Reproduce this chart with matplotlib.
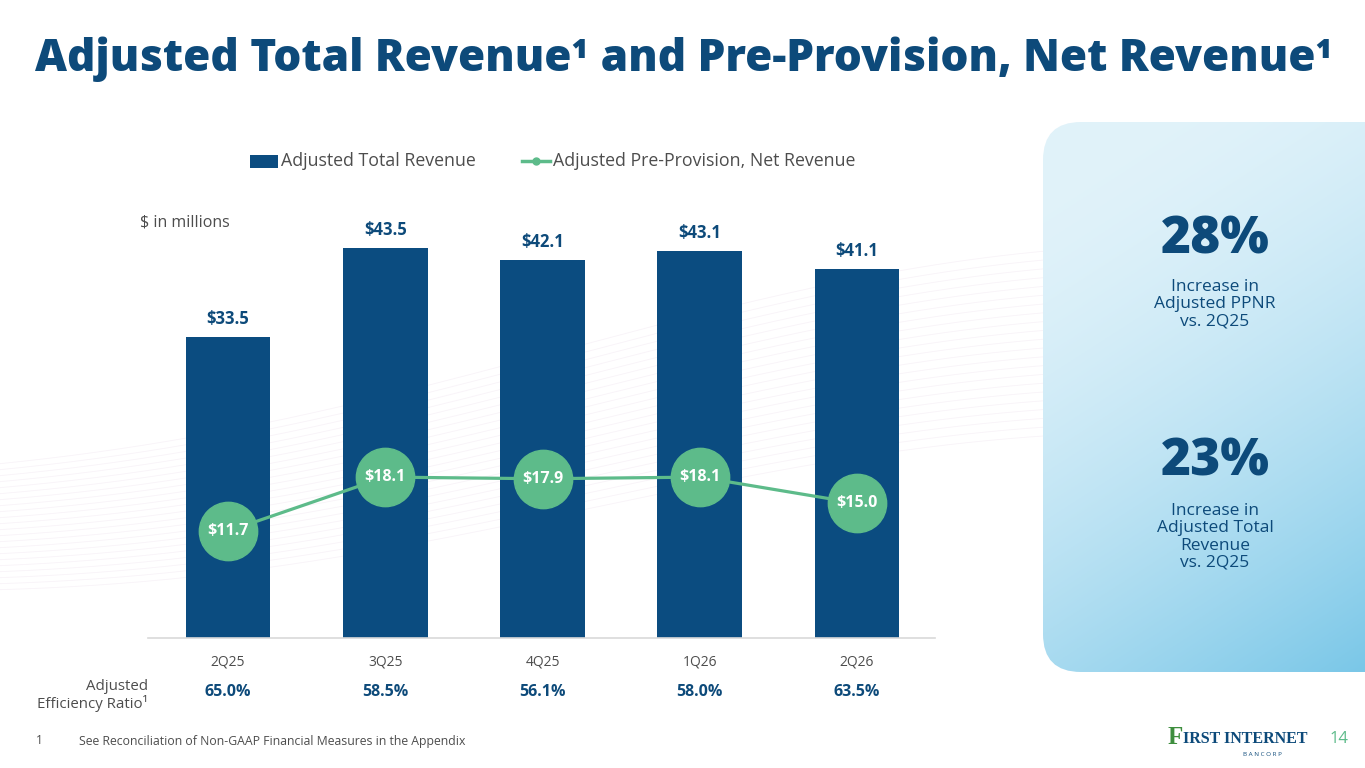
import matplotlib
matplotlib.use("Agg")
import matplotlib.pyplot as plt
import numpy as np
from matplotlib.patches import FancyBboxPatch

plt.rcParams['font.family'] = ['Open Sans', 'DejaVu Sans']

# datos del grafico
quarters = ["2Q25", "3Q25", "4Q25", "1Q26", "2Q26"]
total_revenue = [33.5, 43.5, 42.1, 43.1, 41.1]
ppnr = [11.7, 18.1, 17.9, 18.1, 15.0]
efficiency = ["65.0%", "58.5%", "56.1%", "58.0%", "63.5%"]

NAVY = "#0B4C80"
TITLE = "#0D4A7A"
GREEN = "#5DBB8A"
GRAY = "#4D4D4D"

W, H = 1365, 768
fig = plt.figure(figsize=(W / 100, H / 100), dpi=100)
fig.patch.set_facecolor("white")


def px(x, y):
    return x / W, 1 - y / H


# fondo: lineas onduladas suaves y panel derecho con degradado
panel = fig.add_axes([0, 0, 1, 1], zorder=0)
panel.axis("off")
xs = np.linspace(0, W, 400)
for k in range(22):
    ys = 430 + 6 * k - 150 * np.sin(np.pi * xs / (2 * W)) * (1 - 0.02 * k) + 40 * np.sin(xs / 300 + 1)
    panel.plot(xs, ys, color="#EBDDEB", linewidth=0.6, alpha=0.35, zorder=0)
gx = np.linspace(0, 1, 200)
gy = np.linspace(0, 1, 300)
GX, GY = np.meshgrid(gx, gy)
t = np.clip(0.35 * GX + 0.75 * GY - 0.1, 0, 1) ** 1.6
c0 = np.array([0.88, 0.95, 0.98])
c1 = np.array([0.43, 0.76, 0.90])
img = c0 + (c1 - c0) * t[..., None]
box = FancyBboxPatch((1043, 122), 400, 550, boxstyle="round,pad=0,rounding_size=38",
                     transform=panel.transData, facecolor="none", edgecolor="none")
panel.add_patch(box)
im = panel.imshow(img, extent=(1043, 1443, 672, 122), aspect="auto", zorder=1)
im.set_clip_path(box)
panel.set_xlim(0, W)
panel.set_ylim(H, 0)

# grafico principal
ax = fig.add_axes([148 / W, 1 - 638 / H, 787 / W, 438 / H], zorder=2)
ax.patch.set_alpha(0)
x = np.arange(len(quarters))
ax.bar(x, total_revenue, width=0.54, color=NAVY, label="Adjusted Total Revenue", zorder=2)
ax.set_xlim(-0.509, 4.496)
ax.set_ylim(0, 48.8)
for xi, v in zip(x, total_revenue):
    ax.text(xi, v + 1.0, f"${v}", ha="center", va="bottom", fontsize=12,
            fontweight="bold", color=TITLE)
for s in ["top", "right", "left"]:
    ax.spines[s].set_visible(False)
ax.spines["bottom"].set_color("#D9D9D9")
ax.spines["bottom"].set_linewidth(1.2)
ax.set_yticks([])
ax.set_xticks(x)
ax.set_xticklabels(quarters, fontsize=10, color=GRAY)
ax.tick_params(axis="x", length=0, pad=12)

ax2 = ax.twinx()
ax2.set_ylim(-0.95, 50.9)
ax2.axis("off")
ax2.plot(x, ppnr, color=GREEN, linewidth=2.3, marker="o", markersize=42,
         label="Adjusted Pre-Provision, Net Revenue", zorder=3)
for xi, v in zip(x, ppnr):
    ax2.text(xi, v, f"${v}", ha="center", va="center", fontsize=11.5,
             fontweight="bold", color="white", zorder=4)

# leyenda
fig.patches.append(plt.Rectangle(px(250, 168), 28 / W, 13 / H, transform=fig.transFigure,
                                 facecolor=NAVY, edgecolor="none", zorder=5))
fig.text(*px(281, 161), "Adjusted Total Revenue", fontsize=12.8, color=GRAY, va="center")
fig.lines.append(plt.Line2D([522 / W, 550 / W], [1 - 161 / H] * 2, transform=fig.transFigure,
                            color=GREEN, linewidth=2.5))
fig.lines.append(plt.Line2D([536 / W], [1 - 161 / H], transform=fig.transFigure,
                            color=GREEN, marker="o", markersize=5))
fig.text(*px(553, 161), "Adjusted Pre-Provision, Net Revenue", fontsize=12.8, color=GRAY, va="center")

fig.text(*px(140, 223), "$ in millions", fontsize=11.5, color=GRAY, va="center")

# titulo
fig.text(*px(35, 59), "Adjusted Total Revenue¹ and Pre-Provision, Net Revenue¹",
         fontsize=31.8, fontweight="heavy", color=TITLE, va="center")

# ratio de eficiencia
fig.text(*px(148, 686), "Adjusted", fontsize=10.8, color=GRAY, ha="right", va="center")
fig.text(*px(148, 703), "Efficiency Ratio¹", fontsize=10.8, color=GRAY, ha="right", va="center")
for i, e in enumerate(efficiency):
    fig.text(*px(228 + 157.25 * i, 692), e, fontsize=11.5, fontweight="bold", color=TITLE,
             ha="center", va="center")

# textos del panel
fig.text(*px(1215, 240), "28%", fontsize=37, fontweight="heavy", color=TITLE, ha="center", va="center")
fig.text(*px(1215, 304), "Increase in\nAdjusted PPNR\nvs. 2Q25", fontsize=12.5, color=TITLE,
         ha="center", va="center", linespacing=1.1)
fig.text(*px(1215, 462), "23%", fontsize=37, fontweight="heavy", color=TITLE, ha="center", va="center")
fig.text(*px(1215, 537), "Increase in\nAdjusted Total\nRevenue\nvs. 2Q25", fontsize=12.5, color=TITLE,
         ha="center", va="center", linespacing=1.1)

# pie de pagina
fig.text(*px(36, 741), "1", fontsize=8.5, color=GRAY, va="center")
fig.text(*px(79, 741), "See Reconciliation of Non-GAAP Financial Measures in the Appendix",
         fontsize=8.8, color=GRAY, va="center")
fig.text(*px(1168, 738), "F", fontsize=18, fontweight="bold", color="#3E8E3E", va="center",
         family="Liberation Serif")
fig.text(*px(1183, 739), "IRST INTERNET", fontsize=11.5, fontweight="bold", color=TITLE, va="center",
         family="Liberation Serif")
fig.text(*px(1262, 754), "B A N C O R P", fontsize=4.5, color=TITLE, ha="center", va="center")
fig.text(*px(1330, 739), "14", fontsize=12, color=GREEN, va="center")

fig.savefig("out.png", dpi=100)
